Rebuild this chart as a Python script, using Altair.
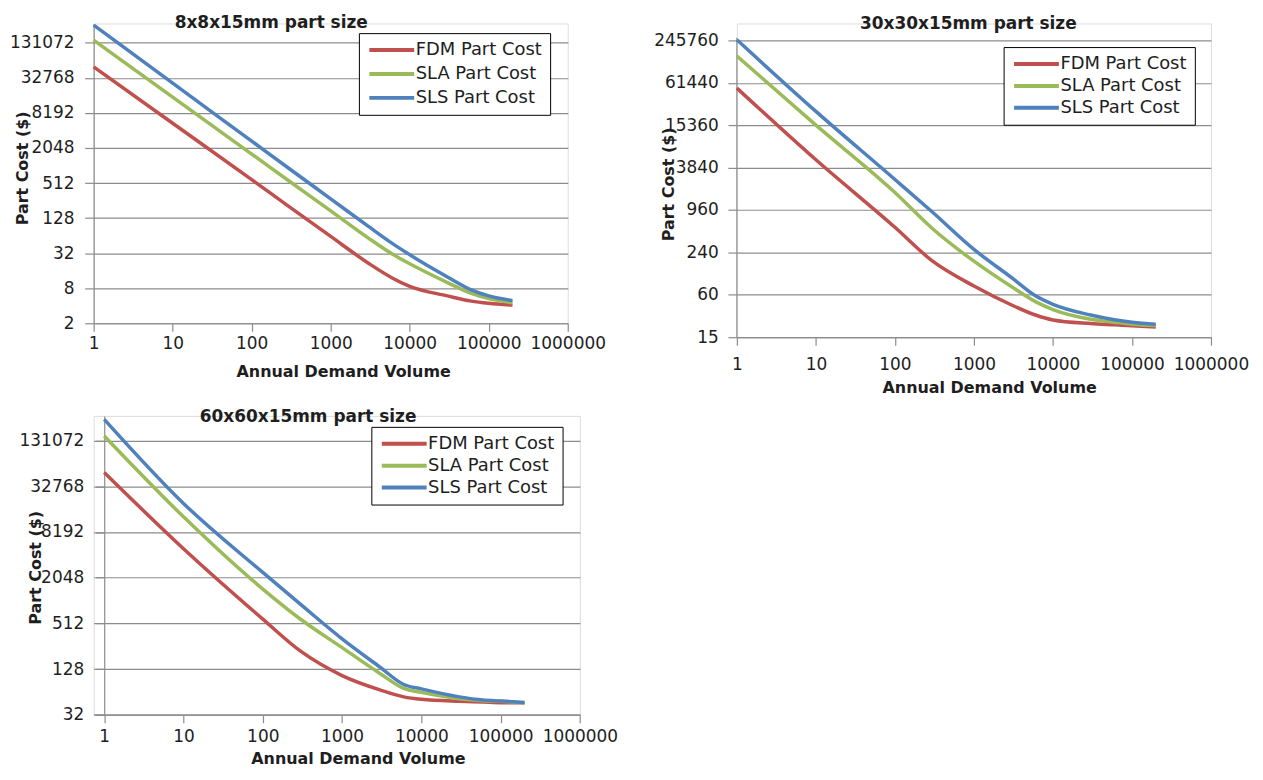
import altair as alt
import pandas as pd

# ---------------- data ----------------
VOLUME = [1, 10, 100, 300, 1000, 3000, 6000, 10000, 30000, 60000, 100000, 200000]
SERIES = ["FDM Part Cost", "SLA Part Cost", "SLS Part Cost"]
COLORS = ["#C0504D", "#9BBB59", "#4F81BD"]
X_TICKS = [1, 10, 100, 1000, 10000, 100000, 1000000]

# 8x8x15mm part size
A_TITLE = "8x8x15mm part size"
A_FDM = [50700, 5450, 585, 200, 62, 21.5, 12, 8.6, 5.9, 4.8, 4.4, 4.1]
A_SLA = [145500, 15300, 1610, 550, 170, 58, 31, 21, 10, 6.5, 5.3, 4.5]
A_SLS = [264000, 26500, 2690, 900, 274, 92, 47, 30, 12.5, 7.5, 5.9, 4.9]
A_YTICKS = [2, 8, 32, 128, 512, 2048, 8192, 32768, 131072]

# 30x30x15mm part size
B_TITLE = "30x30x15mm part size"
B_FDM = [51600, 4950, 545, 180, 80, 43, 31, 26.4, 23.5, 22.5, 21.8, 21]
B_SLA = [147500, 15360, 1700, 520, 180, 78, 48, 37, 27, 24.5, 23, 22]
B_SLS = [250000, 24100, 2605, 890, 265, 105, 58, 44, 31, 26.5, 24.5, 23]
B_YTICKS = [15, 60, 240, 960, 3840, 15360, 61440, 245760]
B_AXIS_TOP = 267000  # top end of the drawn value axis line

# 60x60x15mm part size
C_TITLE = "60x60x15mm part size"
C_FDM = [49800, 4930, 583, 220, 105, 68, 55, 51, 48, 47, 46, 46]
C_SLA = [151000, 13000, 1450, 580, 245, 112, 71, 63, 52, 49, 48, 46]
C_SLS = [250500, 19500, 2400, 910, 320, 136, 80, 70, 55, 50, 48.6, 46.5]
C_YTICKS = [32, 128, 512, 2048, 8192, 32768, 131072]

FONT = "DejaVu Sans"
GRID = "#8c8c8c"
TXT = "#1e1e1e"


def panel(title, fdm, sla, sls, yticks, ydom, xdom, w, h, t_dx, t_dy,
          lx, ly, rowpad, y_offset, y_ticksize, y_labpad, x_labpad,
          xt_x, xt_y, yt_x, yt_y, axis_top=None):
    rows = []
    for name, vals in zip(SERIES, [fdm, sla, sls]):
        for v, c in zip(VOLUME, vals):
            rows.append({"Volume": v, "Cost": c, "Series": name})
    df = pd.DataFrame(rows)

    x_axis = alt.Axis(
        values=X_TICKS, format="d", grid=False, title="Annual Demand Volume",
        tickSize=8, tickColor=GRID, tickWidth=1.2, domainColor=GRID, domainWidth=1.2,
        labelFont=FONT, labelFontSize=17, labelColor=TXT, labelPadding=x_labpad,
        labelBaseline="middle", labelFlush=False, labelOverlap=False,
        titleFont=FONT, titleFontSize=16, titleFontWeight="bold", titleColor=TXT,
        titleX=xt_x, titleY=xt_y, titleBaseline="middle", titleAlign="center",
    )
    y_axis = alt.Axis(
        values=yticks, format="d", grid=True, gridColor=GRID, gridWidth=1.2,
        title="Part Cost ($)", offset=y_offset, domain=axis_top is None,
        tickSize=y_ticksize, tickColor=GRID, tickWidth=1.2, domainColor=GRID, domainWidth=1.2,
        labelFont=FONT, labelFontSize=17, labelColor=TXT, labelPadding=y_labpad,
        labelFlush=False, labelOverlap=False,
        titleFont=FONT, titleFontSize=16, titleFontWeight="bold", titleColor=TXT,
        titleX=yt_x, titleY=yt_y, titleAngle=270, titleBaseline="middle", titleAlign="center",
    )
    legend = alt.Legend(
        title=None, orient="none", legendX=lx, legendY=ly, direction="vertical",
        symbolType="M-3.214,0H3.214", symbolSize=196, symbolStrokeWidth=4,
        symbolOffset=16, labelOffset=15,
        labelFont=FONT, labelFontSize=18, labelColor=TXT,
        padding=8, rowPadding=rowpad, strokeColor="black", fillColor="white",
    )
    xenc = alt.X("Volume:Q", scale=alt.Scale(type="log", domain=xdom, nice=False), axis=x_axis)
    yenc = alt.Y("Cost:Q", scale=alt.Scale(type="log", domain=ydom, nice=False), axis=y_axis)
    lines = alt.Chart(df).mark_line(strokeWidth=3.5, interpolate="monotone").encode(
        x=xenc, y=yenc,
        color=alt.Color("Series:N", scale=alt.Scale(domain=SERIES, range=COLORS), legend=legend),
    )
    title_params = alt.TitleParams(
        title, font=FONT, fontSize=17, fontWeight="bold", color=TXT,
        anchor="middle", frame="group", offset=0, baseline="middle", dx=t_dx, dy=t_dy,
    )
    if axis_top is None:
        return lines.properties(width=w, height=h, title=title_params)
    # value-axis line drawn only over the span used by the reference
    axis_df = pd.DataFrame({"Volume": [X_TICKS[0], X_TICKS[0]], "Cost": [ydom[0], axis_top]})
    axis_line = alt.Chart(axis_df).mark_line(color=GRID, strokeWidth=1.2).encode(x=xenc, y=yenc)
    return alt.layer(axis_line, lines).properties(width=w, height=h, title=title_params)


p1 = panel(A_TITLE, A_FDM, A_SLA, A_SLS, A_YTICKS, [2, 281300], [1, 1000000],
           476, 301, -59.7, 22.4, 266.3, 9.7, 6, 0, 9, 10.7, 12,
           250.5, 48, -71.7, 145)
p2 = panel(B_TITLE, B_FDM, B_SLA, B_SLS, B_YTICKS, [15, 426700], [1, 1000000],
           476, 315, -5.6, 18, 267.8, 23.7, 4, 0, 9, 9.7, 19.7,
           253.3, 50.7, -68.7, 161, axis_top=B_AXIS_TOP)
p3 = panel(C_TITLE, C_FDM, C_SLA, C_SLS, C_YTICKS, [32, 277800], [0.7358, 1000000],
           488.2, 300, -28.8, 22, 278.8, 11, 4, -10.6, 8.6, 12, 14,
           265.3, 44, -68.7, 152)

chart = alt.concat(
    p1, p2, p3, columns=2, spacing={"row": 79, "column": 156.8}, bounds="flush"
).resolve_scale(
    color="independent", x="independent", y="independent"
).resolve_legend(
    color="independent"
).properties(
    padding={"left": 0, "top": 4, "right": 5, "bottom": 5}
).configure_view(stroke=None).configure(background="white")

chart.save("out.html", embed_options={"renderer": "svg", "actions": False})
